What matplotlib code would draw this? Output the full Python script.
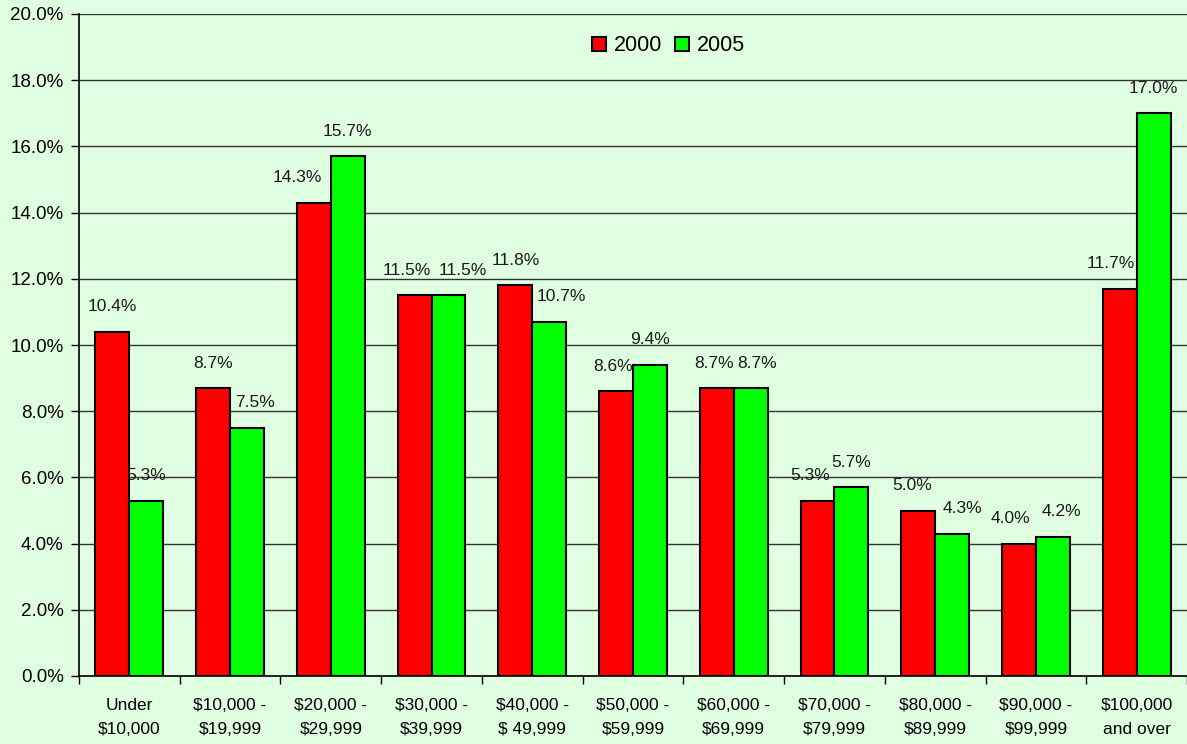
import matplotlib.pyplot as plt
import numpy as np
from matplotlib.ticker import FuncFormatter, FixedLocator

plt.rcParams['font.family'] = ['Liberation Sans', 'DejaVu Sans']
plt.rcParams['text.parse_math'] = False

categories = ["Under\n$10,000", "$10,000 -\n$19,999", "$20,000 -\n$29,999",
              "$30,000 -\n$39,999", "$40,000 -\n$ 49,999", "$50,000 -\n$59,999",
              "$60,000 -\n$69,999", "$70,000 -\n$79,999", "$80,000 -\n$89,999",
              "$90,000 -\n$99,999", "$100,000\nand over"]
pct_2000 = [10.4, 8.7, 14.3, 11.5, 11.8, 8.6, 8.7, 5.3, 5.0, 4.0, 11.7]
pct_2005 = [5.3, 7.5, 15.7, 11.5, 10.7, 9.4, 8.7, 5.7, 4.3, 4.2, 17.0]

# sideways nudges of the value labels (pixels), as placed in the original
nudge_2000 = [0, 0, -17, -8, 0, -3, -3, -7, -6, -8, -9]
nudge_2005 = [0, 8, 0, 14, 12, 0, 6, 0, 10, 9, 0]

bg = '#e0ffe0'
fig = plt.figure(figsize=(11.87, 7.44), dpi=100, facecolor=bg)
ax = fig.add_axes([79 / 1187, 68 / 744, 1 - 79 / 1187, (676 - 14) / 744])
ax.set_facecolor(bg)

x = np.arange(len(categories))
w = 0.337
b1 = ax.bar(x - w / 2, pct_2000, w, color='#ff0000', edgecolor='black', linewidth=1.5,
            label='2000', zorder=3)
b2 = ax.bar(x + w / 2, pct_2005, w, color='#00ff00', edgecolor='black', linewidth=1.5,
            label='2005', zorder=3)

for bars, nudges in ((b1, nudge_2000), (b2, nudge_2005)):
    for r, dx in zip(bars, nudges):
        v = r.get_height()
        ax.annotate(f"{v:.1f}%", (r.get_x() + r.get_width() / 2, v),
                    xytext=(dx * 0.72, 18), textcoords='offset points',
                    ha='center', va='center', fontsize=12.5, color='#1a1a1a')

ax.set_xlim(-0.5, len(categories) - 0.5)
ax.set_ylim(0, 20)
ax.set_yticks(np.arange(0, 20.1, 2))
ax.yaxis.set_major_formatter(FuncFormatter(lambda v, p: f"{v:.1f}%"))
ax.yaxis.grid(True, color='#333333', linewidth=1)
ax.set_axisbelow(True)

ax.set_xticks(x)
ax.set_xticklabels(categories, fontsize=12.5, linespacing=1.75)
ax.xaxis.set_minor_locator(FixedLocator(np.arange(-0.5, len(categories), 1)))
ax.tick_params(axis='x', which='major', length=0, pad=16)
ax.tick_params(axis='x', which='minor', length=6, direction='out', width=1)
ax.tick_params(axis='y', length=6, direction='out', labelsize=13.5, width=1, pad=5)

for s in ('top', 'right'):
    ax.spines[s].set_visible(False)
ax.spines['left'].set_linewidth(1.2)
ax.spines['bottom'].set_linewidth(1.2)

ax.legend(loc='upper center', bbox_to_anchor=(0.532, 0.997), ncol=2, frameon=False,
          fontsize=15.5, handlelength=0.65, handleheight=0.65, handletextpad=0.35,
          columnspacing=0.6)

fig.savefig('out.png', dpi=100, facecolor=bg)
